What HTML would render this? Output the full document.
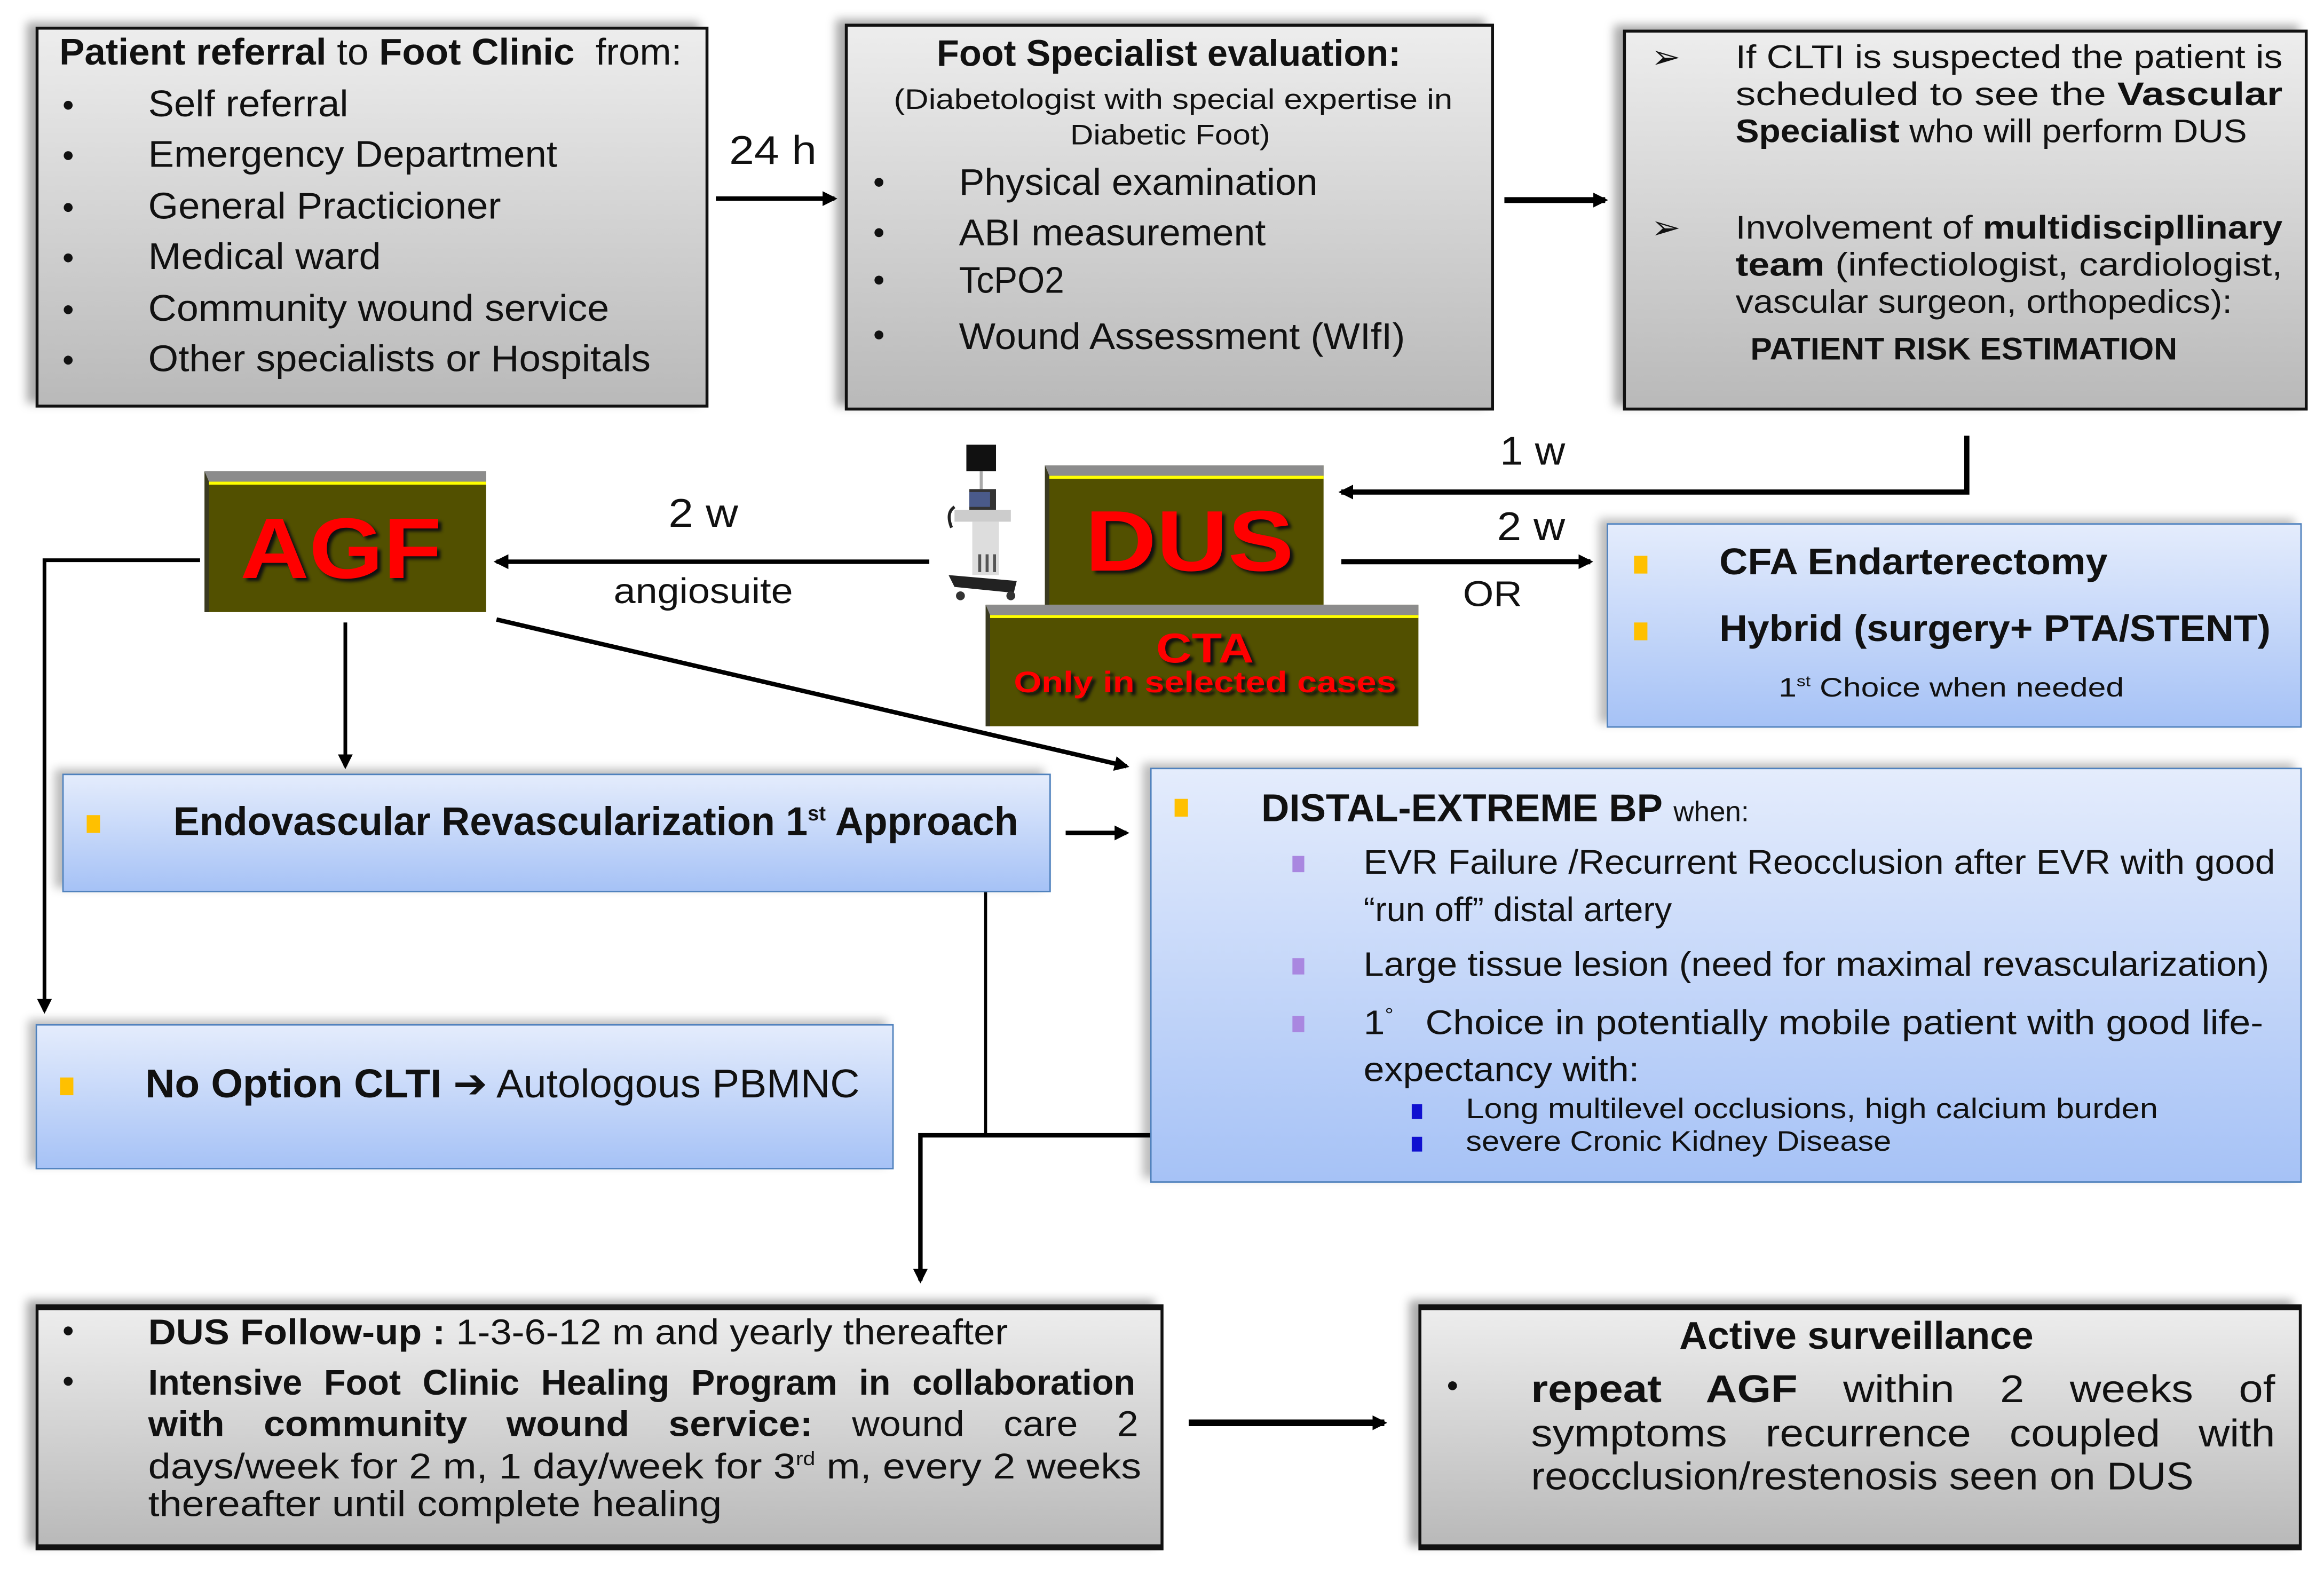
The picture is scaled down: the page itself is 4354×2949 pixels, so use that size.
<!DOCTYPE html>
<html><head><meta charset="utf-8">
<style>
html,body{margin:0;padding:0;background:#fff;overflow:hidden;}
#wrap{position:absolute;left:0;top:0;width:1568px;height:1062px;transform:scale(2.7768);transform-origin:0 0;font-family:"Liberation Sans Narrow","Liberation Sans",sans-serif;color:#111;}
.box{position:absolute;box-sizing:border-box;}
.g{background:linear-gradient(#ededed,#b9b9b9);border:2px solid #111;box-shadow:-6px -3px 6px #aaa;}
.b{background:linear-gradient(#e4ecfc,#a6c2f6);border:1.5px solid #4f81bd;box-shadow:-5px -3px 6px #bbb;}
.o{background:#525000;border-top:7px solid #8c8c8c;border-left:3px solid #3a3a20;}
.o:after{content:"";position:absolute;left:0;right:0;top:0;height:2px;background:#ffff00;}
.f{position:absolute;white-space:nowrap;line-height:1;transform:translateY(-50%);transform-origin:0 50%;}
.w{font-family:"Liberation Sans",sans-serif;}
.bu{position:absolute;width:6px;height:6px;border-radius:50%;background:#111;transform:translate(-50%,-50%);}
.sq{position:absolute;width:9px;height:12px;background:#ffc000;transform:translate(-50%,-50%);}
.sp{position:absolute;width:8px;height:11px;background:#a987e0;transform:translate(-50%,-50%);}
.sb{position:absolute;width:7px;height:10px;background:#1010d0;transform:translate(-50%,-50%);}
.big{font-family:"Liberation Sans",sans-serif;font-weight:bold;color:#ff0000;text-shadow:2px 2px 2px #111;}
</style></head><body>
<div id="wrap">
<div class="box g" style="left:24px;top:18px;width:454px;height:257px"></div>
<div class="box g" style="left:570px;top:16px;width:438px;height:261px"></div>
<div class="box g" style="left:1095px;top:20px;width:462px;height:257px"></div>
<div class="box g" style="left:24px;top:880px;width:761px;height:166px;border-top-width:4px;border-bottom-width:4px"></div>
<div class="box g" style="left:957px;top:880px;width:596px;height:166px;border-top-width:4px;border-bottom-width:4px"></div>
<div class="box b" style="left:1084px;top:353px;width:469px;height:138px"></div>
<div class="box b" style="left:42px;top:522px;width:667px;height:80px"></div>
<div class="box b" style="left:776px;top:518px;width:777px;height:280px"></div>
<div class="box b" style="left:24px;top:691px;width:579px;height:98px"></div>
<div class="box o" style="left:138px;top:318px;width:190px;height:95px"></div>
<div class="box o" style="left:705px;top:314px;width:188px;height:94px"></div>
<div class="box o" style="left:665px;top:408px;width:292px;height:82px"></div>

<svg style="position:absolute;left:630px;top:296px" width="66" height="112" viewBox="0 0 66 112">
<rect x="22" y="4" width="20" height="18" fill="#111"/>
<rect x="31" y="22" width="2" height="12" fill="#aaa"/>
<rect x="24" y="34" width="18" height="14" fill="#333"/>
<rect x="24" y="36" width="14" height="10" fill="#4a5a8a"/>
<rect x="14" y="48" width="38" height="8" fill="#ccc"/>
<path d="M14 46 q-6 4 -2 14" stroke="#222" stroke-width="2" fill="none"/>
<rect x="26" y="56" width="18" height="36" fill="#ddd"/>
<rect x="30" y="78" width="2" height="12" fill="#555"/><rect x="35" y="78" width="2" height="12" fill="#555"/><rect x="40" y="78" width="2" height="12" fill="#555"/>
<path d="M10 92 L56 96 L54 104 L14 100 Z" fill="#222"/>
<circle cx="18" cy="106" r="3" fill="#333"/><circle cx="52" cy="106" r="3" fill="#333"/>
</svg>

<svg style="position:absolute;left:0;top:0" width="1568" height="1062" viewBox="0 0 1568 1062">
<defs><marker id="a" markerWidth="10" markerHeight="10" refX="8" refY="5" orient="auto" markerUnits="userSpaceOnUse"><path d="M0,0 L10,5 L0,10 Z" fill="#000"/></marker></defs>
<g stroke="#000" fill="none">
<line x1="483" y1="134" x2="563" y2="134" stroke-width="3" marker-end="url(#a)"/>
<line x1="1015" y1="135" x2="1083" y2="135" stroke-width="4" marker-end="url(#a)"/>
<polyline points="1327,294 1327,332 905,332" stroke-width="3.5" marker-end="url(#a)"/>
<line x1="905" y1="379" x2="1073" y2="379" stroke-width="3.5" marker-end="url(#a)"/>
<line x1="627" y1="379" x2="335" y2="379" stroke-width="3" marker-end="url(#a)"/>
<polyline points="135,378 30,378 30,682" stroke-width="2.5" marker-end="url(#a)"/>
<line x1="233" y1="420" x2="233" y2="517" stroke-width="2.5" marker-end="url(#a)"/>
<line x1="335" y1="418" x2="760" y2="517" stroke-width="3" marker-end="url(#a)"/>
<line x1="719" y1="562" x2="760" y2="562" stroke-width="3" marker-end="url(#a)"/>
<line x1="665" y1="602" x2="665" y2="765" stroke-width="2"/>
<polyline points="776,766 621,766 621,864" stroke-width="3" marker-end="url(#a)"/>
<line x1="802" y1="960" x2="934" y2="960" stroke-width="4.5" marker-end="url(#a)"/>
</g></svg>

<div class="f" style="left:40px;top:36px;font-size:25px;--w:420"><b>Patient referral</b> to <b>Foot Clinic</b>&nbsp; from:</div>
<div class="bu" style="left:46px;top:71px"></div><div class="f" style="left:100px;top:71px;font-size:25px;--w:135">Self referral</div>
<div class="bu" style="left:46px;top:105px"></div><div class="f" style="left:100px;top:105px;font-size:25px;--w:276">Emergency Department</div>
<div class="bu" style="left:46px;top:140px"></div><div class="f" style="left:100px;top:140px;font-size:25px;--w:238">General Practicioner</div>
<div class="bu" style="left:46px;top:174px"></div><div class="f" style="left:100px;top:174px;font-size:25px;--w:157">Medical ward</div>
<div class="bu" style="left:46px;top:209px"></div><div class="f" style="left:100px;top:209px;font-size:25px;--w:311">Community wound service</div>
<div class="bu" style="left:46px;top:243px"></div><div class="f" style="left:100px;top:243px;font-size:25px;--w:339">Other specialists or Hospitals</div>

<div class="f" style="left:632px;top:37px;font-size:25px;font-weight:bold;--w:313">Foot Specialist evaluation:</div>
<div class="f" style="left:603px;top:68px;font-size:19px;--w:377">(Diabetologist with special expertise in</div>
<div class="f" style="left:722px;top:92px;font-size:19px;--w:135">Diabetic Foot)</div>
<div class="bu" style="left:593px;top:123px"></div><div class="f" style="left:647px;top:124px;font-size:25px;--w:242">Physical examination</div>
<div class="bu" style="left:593px;top:157px"></div><div class="f" style="left:647px;top:158px;font-size:25px;--w:207">ABI measurement</div>
<div class="bu" style="left:593px;top:189px"></div><div class="f" style="left:647px;top:190px;font-size:25px;--w:71">TcPO2</div>
<div class="bu" style="left:593px;top:226px"></div><div class="f" style="left:647px;top:228px;font-size:25px;--w:301">Wound Assessment (WIfI)</div>

<div class="f w" style="left:1114px;top:39px;font-size:22px;--w:20">&#10146;</div>
<div class="f w" style="left:1114px;top:154px;font-size:22px;--w:20">&#10146;</div>
<div class="f w" style="left:1171px;top:39px;font-size:22px;--w:369">If CLTI is suspected the patient is</div>
<div class="f w" style="left:1171px;top:64px;font-size:22px;--w:369">scheduled to see the <b>Vascular</b></div>
<div class="f w" style="left:1171px;top:89px;font-size:22px;--w:345"><b>Specialist</b> who will perform DUS</div>
<div class="f w" style="left:1171px;top:154px;font-size:22px;--w:369">Involvement of <b>multidiscipllinary</b></div>
<div class="f w" style="left:1171px;top:179px;font-size:22px;--w:369"><b>team</b> (infectiologist, cardiologist,</div>
<div class="f w" style="left:1171px;top:204px;font-size:22px;--w:335">vascular surgeon, orthopedics):</div>
<div class="f w" style="left:1181px;top:236px;font-size:21px;font-weight:bold;--w:288">PATIENT RISK ESTIMATION</div>

<div class="f w" style="left:492px;top:102px;font-size:27px;--w:59">24 h</div>
<div class="f w" style="left:451px;top:347px;font-size:27px;--w:47">2 w</div>
<div class="f w" style="left:414px;top:400px;font-size:24px;--w:121">angiosuite</div>
<div class="f w" style="left:1012px;top:305px;font-size:27px;--w:44">1 w</div>
<div class="f w" style="left:1010px;top:356px;font-size:27px;--w:46">2 w</div>
<div class="f w" style="left:987px;top:402px;font-size:24px;--w:40">OR</div>

<div class="f big" style="left:162px;top:371px;font-size:58px;--w:136">AGF</div>
<div class="f big" style="left:732px;top:366px;font-size:58px;--w:141">DUS</div>
<div class="f big" style="left:780px;top:438px;font-size:28px;--w:66">CTA</div>
<div class="f big" style="left:684px;top:461px;font-size:20px;--w:258">Only in selected cases</div>

<div class="sq" style="left:1107px;top:381px"></div><div class="f w" style="left:1160px;top:380px;font-size:25px;font-weight:bold;--w:262">CFA Endarterectomy</div>
<div class="sq" style="left:1107px;top:426px"></div><div class="f w" style="left:1160px;top:425px;font-size:25px;font-weight:bold;--w:372">Hybrid (surgery+ PTA/STENT)</div>
<div class="f w" style="left:1200px;top:464px;font-size:18px;--w:233">1<sup style="font-size:10px">st</sup> Choice when needed</div>

<div class="sq" style="left:63px;top:556px"></div>
<div class="f" style="left:117px;top:555px;font-size:27px;font-weight:bold;--w:570">Endovascular Revascularization 1<sup style="font-size:14px">st</sup> Approach</div>

<div class="sq" style="left:797px;top:545px"></div>
<div class="f" style="left:851px;top:545px;font-size:26px;--w:329"><b>DISTAL-EXTREME BP</b> <span style="font-size:19px">when:</span></div>
<div class="sp" style="left:876px;top:583px"></div><div class="f" style="left:920px;top:582px;font-size:23px;--w:615">EVR Failure /Recurrent Reocclusion after EVR with good</div>
<div class="f" style="left:920px;top:614px;font-size:23px;--w:208">“run off” distal artery</div>
<div class="sp" style="left:876px;top:652px"></div><div class="f" style="left:920px;top:651px;font-size:23px;--w:611">Large tissue lesion (need for maximal revascularization)</div>
<div class="sp" style="left:876px;top:691px"></div><div class="f" style="left:920px;top:690px;font-size:23px;--w:607">1<sup style="font-size:13px">°</sup>&nbsp;&nbsp; Choice in potentially mobile patient with good life-</div>
<div class="f" style="left:920px;top:722px;font-size:23px;--w:186">expectancy with:</div>
<div class="sb" style="left:956px;top:750px"></div><div class="f" style="left:989px;top:749px;font-size:19px;--w:467">Long multilevel occlusions, high calcium burden</div>
<div class="sb" style="left:956px;top:772px"></div><div class="f" style="left:989px;top:771px;font-size:19px;--w:287">severe Cronic Kidney Disease</div>

<div class="sq" style="left:45px;top:733px"></div>
<div class="f" style="left:98px;top:732px;font-size:27px;--w:482"><b>No Option CLTI</b> <b style="font-family:'DejaVu Sans',sans-serif">&#10132;</b> Autologous PBMNC</div>

<div class="bu" style="left:46px;top:898px"></div><div class="f" style="left:100px;top:900px;font-size:24px;--w:580"><b>DUS Follow-up :</b> 1-3-6-12 m and yearly thereafter</div>
<div class="bu" style="left:46px;top:932px"></div><div class="f" style="left:100px;top:934px;font-size:24px;font-weight:bold;--w:666;word-spacing:8px">Intensive Foot Clinic Healing Program in collaboration</div>
<div class="f" style="left:100px;top:962px;font-size:24px;--w:668;word-spacing:18px"><b>with community wound service:</b> wound care 2</div>
<div class="f" style="left:100px;top:990px;font-size:24px;--w:670">days/week for 2 m, 1 day/week for 3<sup style="font-size:13px">rd</sup> m, every 2 weeks</div>
<div class="f" style="left:100px;top:1016px;font-size:24px;--w:387">thereafter until complete healing</div>

<div class="f" style="left:1133px;top:901px;font-size:26px;font-weight:bold;--w:239">Active surveillance</div>
<div class="bu" style="left:980px;top:935px"></div>
<div class="f" style="left:1033px;top:937px;font-size:26px;--w:502;word-spacing:20px"><b>repeat AGF</b> within 2 weeks of</div>
<div class="f" style="left:1033px;top:967px;font-size:26px;--w:502;word-spacing:16px">symptoms recurrence coupled with</div>
<div class="f" style="left:1033px;top:996px;font-size:26px;--w:447">reocclusion/restenosis seen on DUS</div>
</div>
<script>
document.querySelectorAll('.f').forEach(function(el){
  var w=parseFloat(getComputedStyle(el).getPropertyValue('--w'));
  if(!w)return;
  var m=el.getBoundingClientRect().width/2.7768;
  if(m>0){el.style.transform='translateY(-50%) scaleX('+(w/m)+')';}
});
</script>
</body></html>
